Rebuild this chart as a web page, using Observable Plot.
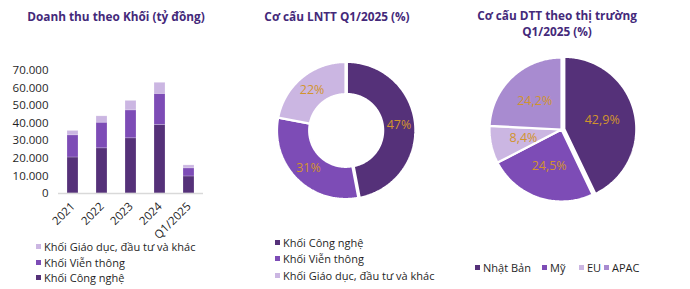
<!DOCTYPE html>
<html><head><meta charset="utf-8">
<script src="https://cdn.jsdelivr.net/npm/d3@7"></script>
<script src="https://cdn.jsdelivr.net/npm/@observablehq/plot@0.6"></script>
<style>
body{margin:0;background:#fff;font-family:"Open Sans",sans-serif;}
#root{position:relative;width:690px;height:289px;overflow:hidden;background:#fff;}
.title{position:absolute;font-weight:700;font-size:11.8px;color:#44297a;text-align:center;line-height:16px;white-space:nowrap;}
.legend{position:absolute;font-size:11px;color:#1f1f1f;}
.legend .item{display:flex;align-items:center;white-space:nowrap;}
.legend.row{display:flex;}
.sw{display:inline-block;width:5px;height:5px;margin-right:3px;}
.plot{position:absolute;top:0;overflow:visible;}
</style></head>
<body><div id="root"></div>
<script>
// ---------- DATA ----------
const years = ["2021", "2022", "2023", "2024", "Q1/2025"];
const segments = ["Khối Công nghệ", "Khối Viễn thông", "Khối Giáo dục, đầu tư và khác"];
const revCongNghe = [20500, 25700, 31400, 39000, 9700];
const revVienThong = [12600, 14600, 15900, 17700, 4600];
const revGiaoDuc = [2500, 3600, 5400, 6300, 1700];
const yTicks = [0, 10000, 20000, 30000, 40000, 50000, 60000, 70000];

const lnttSegments = ["Khối Công nghệ", "Khối Viễn thông", "Khối Giáo dục, đầu tư và khác"];
const lnttValues = [47, 31, 22];
const lnttLabels = ["47%", "31%", "22%"];

const markets = ["Nhật Bản", "Mỹ", "EU", "APAC"];
const marketValues = [42.9, 24.5, 8.4, 24.2];
const marketLabels = ["42,9%", "24,5%", "8,4%", "24,2%"];

const titles = ["Doanh thu theo Khối (tỷ đồng)", "Cơ cấu LNTT Q1/2025 (%)", "Cơ cấu DTT theo thị trường", "Q1/2025 (%)"];

// ---------- STYLE ----------
const C_DARK = "#553179", C_MED = "#7d4cb6", C_LIGHT = "#cbb6e2", C_MID = "#a88bd0";
const segColors = [C_DARK, C_MED, C_LIGHT];
const marketColors = [C_DARK, C_MED, C_LIGHT, C_MID];
const LABEL = "#d2942d";
const FONT = "'Open Sans', sans-serif";

const root = document.getElementById("root");
function addTitle(text, cx, top) {
  const d = document.createElement("div");
  d.className = "title"; d.textContent = text;
  d.style.left = (cx - 150) + "px"; d.style.width = "300px"; d.style.top = top + "px";
  root.appendChild(d);
}
function addLegend(items, colors, left, top, rowHeight, horizontal, gaps) {
  const d = document.createElement("div");
  d.className = "legend" + (horizontal ? " row" : "");
  d.style.left = left + "px"; d.style.top = top + "px";
  items.forEach((t, i) => {
    const it = document.createElement("div");
    it.className = "item";
    it.style.height = rowHeight + "px";
    if (horizontal && gaps) it.style.width = gaps[i] + "px";
    const s = document.createElement("span"); s.className = "sw"; s.style.background = colors[i];
    const tx = document.createElement("span"); tx.textContent = t;
    it.appendChild(s); it.appendChild(tx); d.appendChild(it);
  });
  root.appendChild(d);
}

// ---------- BAR CHART ----------
const fmt = d3.formatLocale({decimal: ",", thousands: ".", grouping: [3], currency: ["", ""]}).format(",");
const barData = years.flatMap((yr, i) => [
  {year: yr, seg: segments[0], value: revCongNghe[i]},
  {year: yr, seg: segments[1], value: revVienThong[i]},
  {year: yr, seg: segments[2], value: revGiaoDuc[i]}
]);
const bar = Plot.plot({
  width: 230, height: 245,
  marginLeft: 58, marginRight: 27, marginTop: 70, marginBottom: 52,
  style: {fontFamily: FONT, fontSize: "11.5px", color: "#1f1f1f", background: "transparent"},
  x: {domain: years, paddingInner: 0.61, paddingOuter: 0.28, tickRotate: -45, tickSize: 0, tickPadding: 11, label: null},
  y: {domain: [0, 70000], ticks: yTicks, tickFormat: fmt, tickSize: 0, tickPadding: 10, label: null},
  color: {domain: segments, range: segColors},
  marks: [
    Plot.barY(barData, {x: "year", y: "value", fill: "seg", stroke: "white", strokeOpacity: 0.35, strokeWidth: 0.6}),
    Plot.ruleY([0], {stroke: "#d9d9d9", strokeWidth: 1.5})
  ]
});
bar.classList.add("plot"); bar.style.left = "0px";
root.appendChild(bar);

// ---------- PIE HELPERS ----------
function pieGeometry(values, inner, explode) {
  const arcs = d3.pie().sort(null).value(d => d)(values);
  return arcs.map((a, i) => {
    const n = Math.max(4, Math.ceil((a.endAngle - a.startAngle) / 0.015));
    const mid = (a.startAngle + a.endAngle) / 2;
    const e = explode[i] || 0;
    const ox = e * Math.sin(mid), oy = e * Math.cos(mid);
    const poly = [];
    for (let k = 0; k <= n; k++) {
      const t = a.startAngle + (a.endAngle - a.startAngle) * k / n;
      poly.push({x: ox + Math.sin(t), y: oy + Math.cos(t)});
    }
    if (inner > 0) {
      for (let k = n; k >= 0; k--) {
        const t = a.startAngle + (a.endAngle - a.startAngle) * k / n;
        poly.push({x: ox + inner * Math.sin(t), y: oy + inner * Math.cos(t)});
      }
    } else poly.push({x: ox, y: oy});
    poly.push(poly[0]);
    return {poly, mid, ox, oy};
  });
}
function piePlot(values, labels, colors, opts) {
  const {W, H, cx, cy, R, inner, explode, labelR} = opts;
  const geo = pieGeometry(values, inner, explode);
  const lab = geo.map((g, i) => ({x: g.ox + labelR * Math.sin(g.mid), y: g.oy + labelR * Math.cos(g.mid), t: labels[i]}));
  return Plot.plot({
    width: W, height: H, margin: 0,
    style: {fontFamily: FONT, background: "transparent"},
    x: {domain: [-cx / R, (W - cx) / R], axis: null},
    y: {domain: [(cy - H) / R, cy / R], axis: null},
    marks: [
      ...geo.map((g, i) => Plot.line(g.poly, {x: "x", y: "y", fill: colors[i], stroke: "white", strokeWidth: 2.2, strokeLinejoin: "miter", curve: "linear"})),
      Plot.text(lab, {x: "x", y: "y", text: "t", fill: LABEL, fontSize: 12.5})
    ]
  });
}

// ---------- DONUT ----------
const donut = piePlot(lnttValues, lnttLabels, segColors,
  {W: 230, H: 230, cx: 115, cy: 130, R: 68.5, inner: 0.53, explode: [0.02, 0, 0], labelR: 0.765});
donut.classList.add("plot"); donut.style.left = "230px";
root.appendChild(donut);

// ---------- PIE ----------
const pie = piePlot(marketValues, marketLabels, marketColors,
  {W: 230, H: 230, cx: 101, cy: 129, R: 72, inner: 0, explode: [0.04, 0, 0, 0], labelR: 0.54});
pie.classList.add("plot"); pie.style.left = "460px";
root.appendChild(pie);

// ---------- TITLES & LEGENDS ----------
addTitle(titles[0], 116, 8);
addTitle(titles[1], 337, 8);
addTitle(titles[2], 557, 7);
addTitle(titles[3], 557, 23);

addLegend([segments[2], segments[1], segments[0]], [segColors[2], segColors[1], segColors[0]], 36, 239, 15.5, false);
addLegend(lnttSegments, segColors, 275, 234, 16.5, false);
addLegend(markets, marketColors, 475, 259, 16, true, [67, 37, 25, 60]);
</script>
</body></html>
